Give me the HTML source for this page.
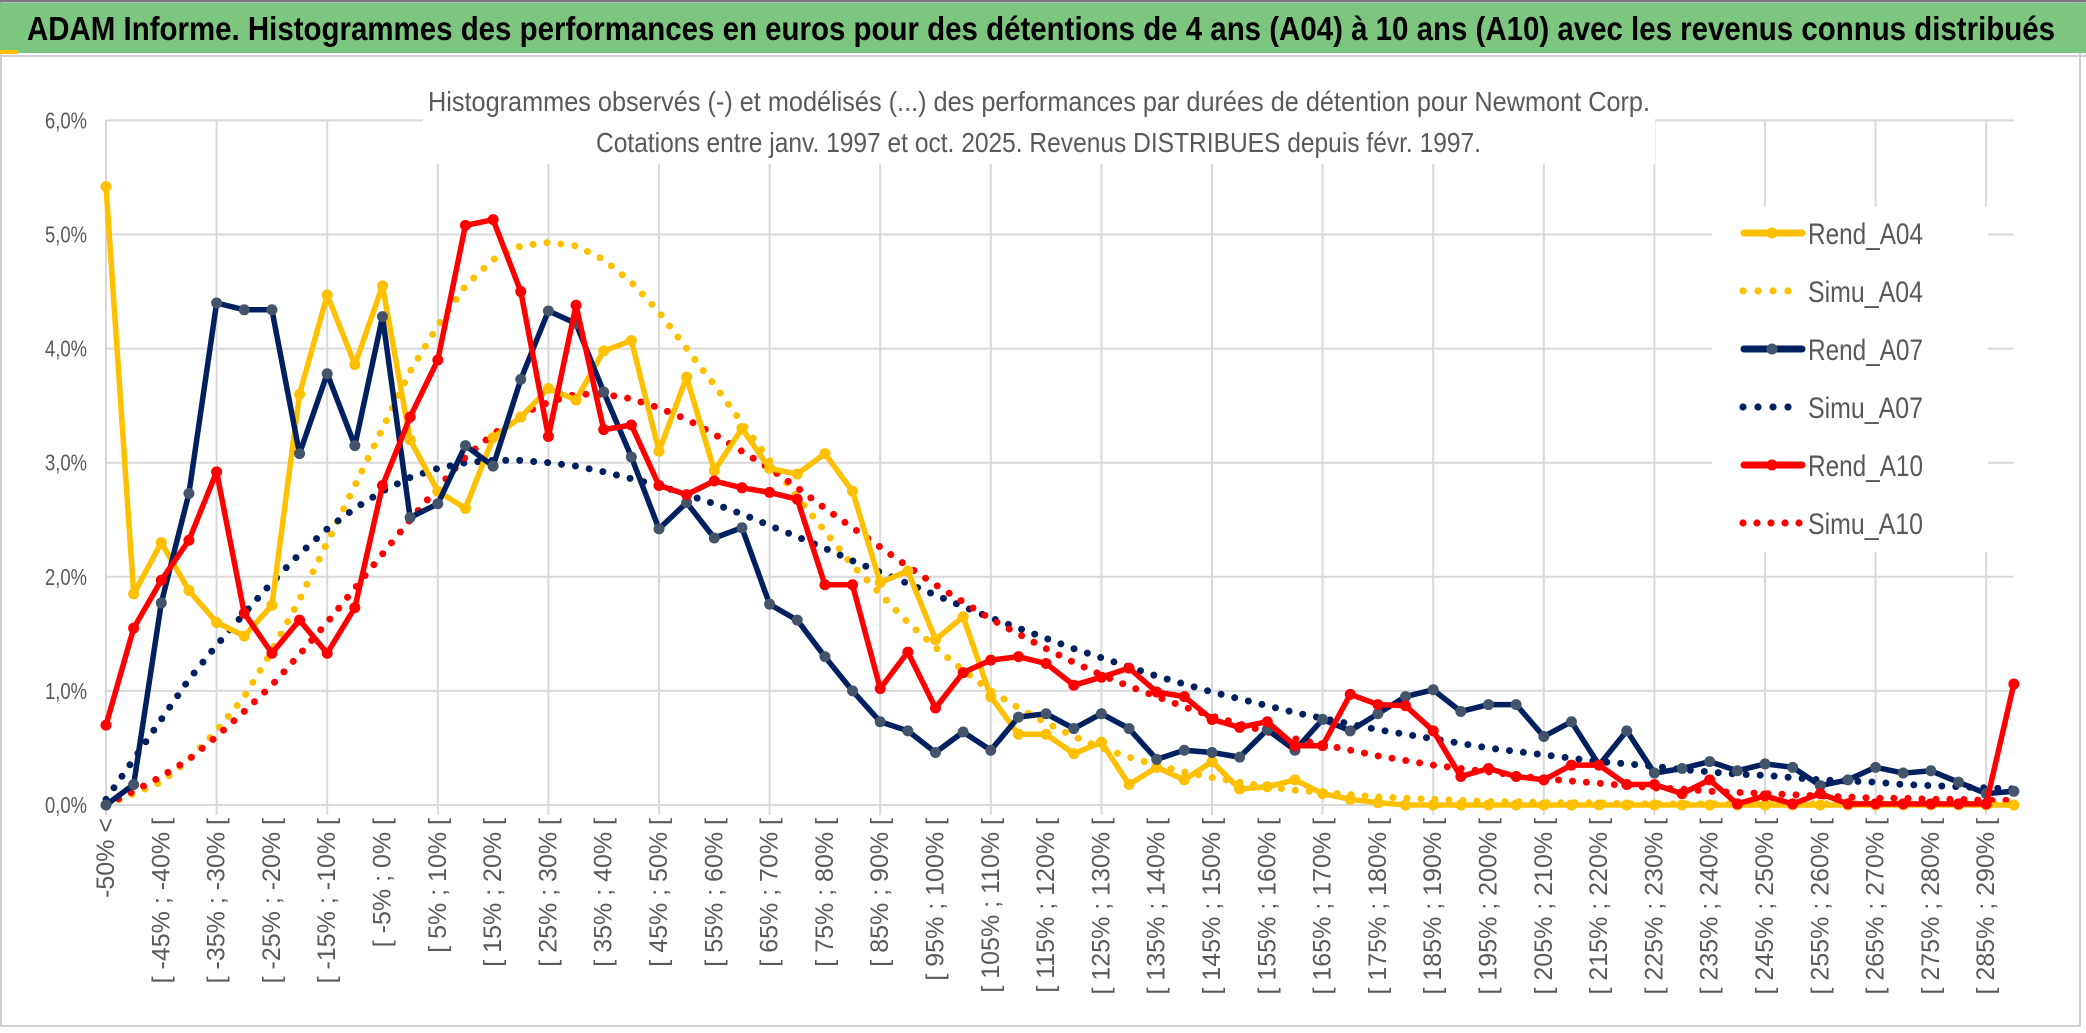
<!DOCTYPE html>
<html><head><meta charset="utf-8"><style>
html,body{margin:0;padding:0;background:#fff;}
svg{display:block;font-family:"Liberation Sans",sans-serif;}
</style></head><body>
<svg id="chart" width="2086" height="1033" viewBox="0 0 2086 1033" xmlns="http://www.w3.org/2000/svg">
<rect x="0" y="0" width="2086" height="1033" fill="#fff"/>
<rect x="1" y="1" width="2079" height="1025" fill="none" stroke="#d0d0d0" stroke-width="2"/>
<line x1="0" y1="1" x2="2086" y2="1" stroke="#777" stroke-width="3"/>
<rect x="0" y="3" width="2086" height="50" fill="#7dc67f"/>
<rect x="0" y="50" width="18" height="4" fill="#ffc000"/>
<line x1="0" y1="56" x2="2086" y2="56" stroke="#d0d0d0" stroke-width="2"/>
<text x="27" y="40" font-size="33" font-weight="bold" fill="#000" textLength="2028" lengthAdjust="spacingAndGlyphs">ADAM Informe. Histogrammes des performances en euros pour des détentions de 4 ans (A04) à 10 ans (A10) avec les revenus connus distribués</text>
<g id="grid"></g>
<rect x="423" y="84" width="1232" height="80" fill="#fff"/>
<text x="428" y="111" font-size="28" fill="#595959" textLength="1222" lengthAdjust="spacingAndGlyphs">Histogrammes observés (-) et modélisés (...) des performances par durées de détention pour Newmont Corp.</text>
<text x="596" y="152" font-size="28" fill="#595959" textLength="885" lengthAdjust="spacingAndGlyphs">Cotations entre janv. 1997 et oct. 2025. Revenus DISTRIBUES depuis févr. 1997.</text>
<g id="yaxis"></g>
<g id="xaxis"></g>
<g id="series"></g>
<g id="legend"></g>
</svg>
<script>
const yTicks = [0,1,2,3,4,5,6];
const yTickLabels = ["0,0%","1,0%","2,0%","3,0%","4,0%","5,0%","6,0%"];
const binStarts = [];
for (let i = 1; i < 70; i++) binStarts.push(-55 + 5 * i);
const rendA04 = [5.42,1.85,2.3,1.88,1.6,1.48,1.75,3.6,4.47,3.86,4.55,3.2,2.75,2.6,3.22,3.4,3.65,3.55,3.98,4.07,3.1,3.75,2.93,3.3,2.95,2.9,3.08,2.75,1.95,2.05,1.45,1.65,0.95,0.62,0.62,0.45,0.55,0.18,0.33,0.22,0.38,0.14,0.16,0.22,0.1,0.05,0.02,0,0,0,0,0,0,0,0,0,0,0,0,0,0,0,0,0,0,0,0,0,0,0];
const simuA04 = [0,0.1,0.2,0.4,0.65,0.95,1.35,1.8,2.3,2.8,3.3,3.8,4.2,4.55,4.78,4.9,4.93,4.9,4.78,4.58,4.32,4.0,3.68,3.35,3.02,2.7,2.4,2.1,1.85,1.6,1.38,1.18,1.0,0.85,0.72,0.6,0.5,0.42,0.35,0.29,0.24,0.2,0.16,0.13,0.11,0.09,0.07,0.06,0.05,0.04,0.03,0.03,0.02,0.02,0.02,0.01,0.01,0.01,0.01,0.01,0.01,0.01,0.01,0.01,0.01,0.01,0.01,0.01,0.01,0];
const rendA07 = [0,0.18,1.77,2.73,4.4,4.34,4.34,3.08,3.78,3.15,4.28,2.52,2.64,3.15,2.97,3.73,4.33,4.22,3.62,3.05,2.42,2.65,2.34,2.43,1.76,1.62,1.3,1.0,0.73,0.65,0.46,0.64,0.48,0.77,0.8,0.67,0.8,0.67,0.4,0.48,0.46,0.42,0.66,0.48,0.75,0.65,0.8,0.95,1.01,0.82,0.88,0.88,0.6,0.73,0.35,0.65,0.28,0.32,0.38,0.3,0.36,0.33,0.17,0.22,0.33,0.28,0.3,0.2,0.1,0.12];
const simuA07 = [0.05,0.4,0.75,1.1,1.4,1.68,1.95,2.2,2.42,2.6,2.75,2.87,2.95,3.0,3.02,3.02,3.0,2.97,2.92,2.86,2.8,2.72,2.64,2.55,2.45,2.35,2.25,2.14,2.04,1.94,1.84,1.74,1.64,1.55,1.46,1.37,1.29,1.21,1.13,1.06,0.99,0.93,0.87,0.81,0.76,0.71,0.66,0.62,0.58,0.54,0.5,0.47,0.44,0.41,0.38,0.36,0.34,0.31,0.29,0.27,0.26,0.24,0.22,0.21,0.2,0.18,0.17,0.16,0.15,0.14];
const rendA10 = [0.7,1.55,1.97,2.32,2.92,1.68,1.33,1.62,1.33,1.73,2.8,3.4,3.9,5.08,5.13,4.5,3.23,4.38,3.29,3.33,2.8,2.72,2.84,2.78,2.74,2.68,1.93,1.93,1.02,1.34,0.85,1.16,1.27,1.3,1.24,1.05,1.12,1.2,0.99,0.95,0.75,0.68,0.73,0.52,0.52,0.97,0.88,0.87,0.65,0.25,0.32,0.25,0.22,0.35,0.35,0.18,0.18,0.1,0.22,0.01,0.08,0.01,0.1,0.01,0.01,0.01,0.01,0.01,0.01,1.06];
const simuA10 = [0,0.12,0.25,0.4,0.6,0.82,1.05,1.32,1.6,1.9,2.2,2.5,2.78,3.05,3.25,3.42,3.53,3.6,3.6,3.56,3.48,3.38,3.25,3.1,2.95,2.78,2.6,2.43,2.26,2.09,1.93,1.78,1.63,1.5,1.37,1.25,1.14,1.04,0.95,0.86,0.78,0.71,0.64,0.58,0.53,0.48,0.43,0.39,0.35,0.32,0.29,0.26,0.23,0.21,0.19,0.17,0.15,0.14,0.12,0.11,0.1,0.09,0.08,0.07,0.06,0.06,0.05,0.05,0.04,0.04];
const seriesNames = ["Rend_A04","Simu_A04","Rend_A07","Simu_A07","Rend_A10","Simu_A10"];

const NS = "http://www.w3.org/2000/svg";
const X0 = 106, DX = 27.65, Y0 = 805, DY = 114.1;
const N = rendA04.length;
const xPos = i => X0 + DX * i;
const yPos = v => Y0 - DY * v;
function mk(tag, attrs, parent) {
  const e = document.createElementNS(NS, tag);
  for (const k in attrs) e.setAttribute(k, attrs[k]);
  parent.appendChild(e);
  return e;
}
const grid = document.getElementById('grid');
yTicks.forEach(t => {
  const l = mk('line', {x1: X0, x2: xPos(N - 1), y1: yPos(t), y2: yPos(t), stroke: '#d9d9d9', 'stroke-width': 2}, grid);
  
  
});
for (let i = 0; i < N; i += 4) {
  const l = mk('line', {x1: xPos(i), x2: xPos(i), y1: yPos(6), y2: Y0 + 10, stroke: '#d9d9d9', 'stroke-width': 2}, grid);
  
  
}
const yaxis = document.getElementById('yaxis');
yTicks.forEach((t, k) => {
  const tx = mk('text', {x: 87, y: yPos(t) + 8, 'font-size': 23, fill: '#595959', 'text-anchor': 'end', textLength: 42, lengthAdjust: 'spacingAndGlyphs'}, yaxis);
  
  
  tx.textContent = yTickLabels[k];
});
const xaxis = document.getElementById('xaxis');
for (let i = 0; i < N; i += 2) {
  let lab;
  if (i === 0) lab = "-50% <";
  else { const s = binStarts[i - 1]; lab = "[ " + s + "% ; " + (s + 5) + "% ["; }
  const tx = mk('text', {x: 0, y: 0, 'font-size': 25, fill: '#595959', 'text-anchor': 'end', transform: 'translate(' + (xPos(i) + 8) + ',818) rotate(-90)'}, xaxis);
  
  
  tx.textContent = lab;
}
const sg = document.getElementById('series');
function pathD(arr) { return arr.map((v, i) => (i ? 'L' : 'M') + xPos(i).toFixed(1) + ',' + yPos(v).toFixed(1)).join(' '); }
function dotted(arr, color, name) {
  const p = mk('path', {d: pathD(arr), fill: 'none', stroke: color, 'stroke-width': 7, 'stroke-linecap': 'round', 'stroke-dasharray': '0 14'}, sg);
  
  
}
function solid(arr, color, mcolor, name) {
  const g = mk('g', {}, sg);
  
  
  mk('path', {d: pathD(arr), fill: 'none', stroke: color, 'stroke-width': 5.5, 'stroke-linejoin': 'round'}, g);
  arr.forEach((v, i) => {
    const c = mk('circle', {cx: xPos(i), cy: yPos(v), r: 5.5, fill: mcolor}, g);
    
    
  });
}
dotted(simuA04, '#ffc000', 'simu-a04-line');
dotted(simuA07, '#002060', 'simu-a07-line');
dotted(simuA10, '#ff0000', 'simu-a10-line');
solid(rendA04, '#ffc000', '#ffc000', 'rend-a04-line');
solid(rendA07, '#002060', '#44546a', 'rend-a07-line');
solid(rendA10, '#ff0000', '#ff0000', 'rend-a10-line');

const lg = document.getElementById('legend');
mk('rect', {x: 1712, y: 207, width: 276, height: 345, fill: '#fff'}, lg);
const lcolors = ['#ffc000','#ffc000','#002060','#002060','#ff0000','#ff0000'];
const mcolors = ['#ffc000','#ffc000','#44546a','#44546a','#ff0000','#ff0000'];
const rowY = [233, 291, 349, 407, 465, 523];
seriesNames.forEach((nm, k) => {
  const g = mk('g', {}, lg);
  
  
  const y = rowY[k];
  if (k % 2 === 0) {
    mk('line', {x1: 1744, x2: 1802, y1: y, y2: y, stroke: lcolors[k], 'stroke-width': 7, 'stroke-linecap': 'round'}, g);
    mk('circle', {cx: 1772, cy: y, r: 5.5, fill: mcolors[k]}, g);
  } else {
    const nd = k === 5 ? 5 : 4;
    for (let d = 0; d < nd; d++) mk('circle', {cx: 1743 + d * (k === 5 ? 14 : 15), cy: y, r: 3.6, fill: lcolors[k]}, g);
  }
  const t = mk('text', {x: 1808, y: y + 11, 'font-size': 30, fill: '#595959', textLength: 115, lengthAdjust: 'spacingAndGlyphs'}, g);
  t.textContent = nm;
});
</script>
</body></html>
